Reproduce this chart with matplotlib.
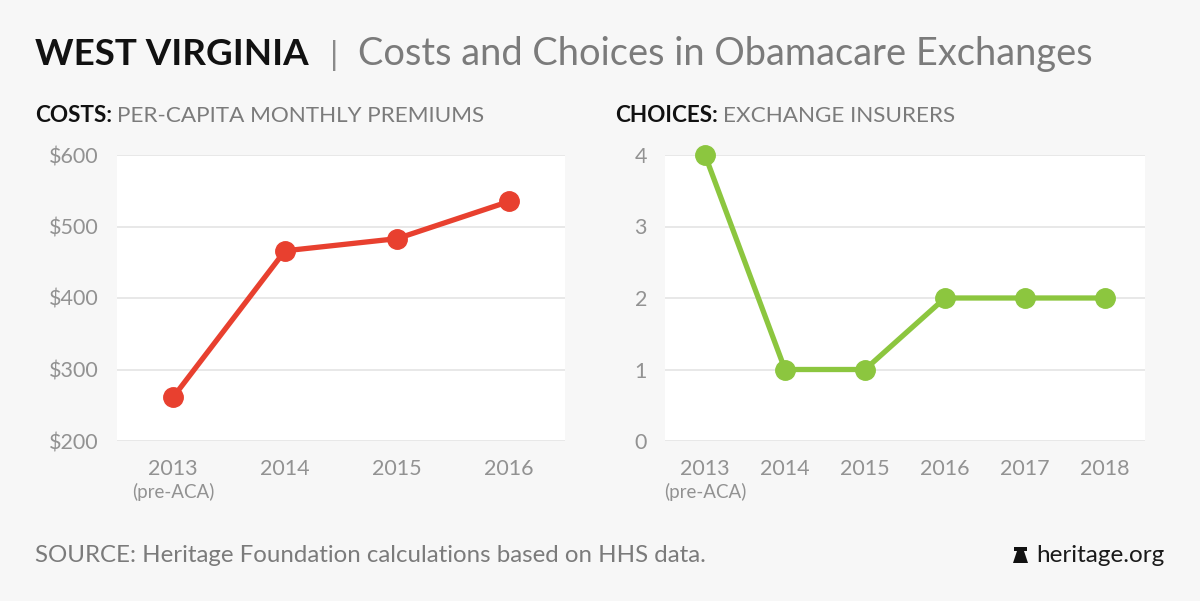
import matplotlib.pyplot as plt
from matplotlib.patches import Polygon
from matplotlib.transforms import blended_transform_factory

# Data
cost_years = ["2013", "2014", "2015", "2016"]
cost_values = [261, 466, 483, 535]
choice_years = ["2013", "2014", "2015", "2016", "2017", "2018"]
choice_values = [4, 1, 1, 2, 2, 2]

BG = "#f7f7f7"
RED = "#e8402f"
GREEN = "#8cc63f"
GRID = "#e4e4e4"
TICK = "#929292"
GREY = "#7b7b7b"

plt.rcParams['font.family'] = ['Lato', 'DejaVu Sans']

W, H = 1200, 601
fig = plt.figure(figsize=(12, 6.01), dpi=100, facecolor=BG)

# Title block
fig.text(35/W, 1-65/H, "WEST VIRGINIA", size=26.5, weight='bold', color='#111111')
fig.text(330/W, 1-65/H, "|", size=24, color='#8a8a8a')
fig.text(358/W, 1-65/H, "Costs and Choices in Obamacare Exchanges",
         size=27.4, color=GREY)

def subtitle(x, bold, light):
    """ Bold keyword followed by the grey description """
    t = fig.text(x/W, 1-122/H, bold, size=16.2, weight='bold', color='#111111')
    fig.canvas.draw()
    bb = t.get_window_extent()
    fig.text(bb.x1/W + 5/W, 1-122/H, light, size=16.2, color=GREY)

subtitle(35, "COSTS:", "PER-CAPITA MONTHLY PREMIUMS")
subtitle(615, "CHOICES:", "EXCHANGE INSURERS")

def style_axis(ax, n):
    """ White panel, light horizontal grid, no spines, grey tick labels """
    ax.set_facecolor('white')
    for s in ax.spines.values():
        s.set_visible(False)
    ax.grid(axis='y', color=GRID, linewidth=1.2)
    ax.set_axisbelow(True)
    ax.tick_params(length=0, labelsize=15.5, labelcolor=TICK, pad=13)
    ax.tick_params(axis='x', pad=13)
    ax.set_xlim(-0.5, n - 0.5)
    # second line under the first year
    trans = blended_transform_factory(ax.transData, ax.transAxes)
    ax.text(0, -0.148, "(pre-ACA)", transform=trans, ha='center', va='top',
            size=13.5, color=TICK)

# Costs panel
ax1 = fig.add_axes([117/W, 1-441/H, 448/W, 286/H])
ax1.plot(range(len(cost_values)), cost_values, color=RED, lw=3.8,
         marker='o', ms=14, clip_on=False)
ax1.set_ylim(200, 600)
ax1.set_yticks([200, 300, 400, 500, 600])
ax1.set_yticklabels([f"${v}" for v in [200, 300, 400, 500, 600]])
ax1.set_xticks(range(len(cost_years)))
ax1.set_xticklabels(cost_years)
style_axis(ax1, len(cost_years))

# Choices panel
ax2 = fig.add_axes([665/W, 1-441/H, 480/W, 286/H])
ax2.plot(range(len(choice_values)), choice_values, color=GREEN, lw=3.8,
         marker='o', ms=14, clip_on=False)
ax2.set_ylim(0, 4)
ax2.set_yticks([0, 1, 2, 3, 4])
ax2.set_xticks(range(len(choice_years)))
ax2.set_xticklabels(choice_years)
style_axis(ax2, len(choice_years))

# Footer
fig.text(35/W, 1-555/H, "SOURCE: Heritage Foundation calculations based on HHS data.",
         size=17.3, color=GREY, va='center')
fig.text(1165/W, 1-555/H, "heritage.org", size=17.5, color='#1a1a1a',
         ha='right', va='center')
# little bell logo
bell = [(1013, 563), (1028, 563), (1026, 557), (1024, 551), (1027, 551),
        (1027, 547), (1014, 547), (1014, 551), (1017, 551), (1015, 557)]
fig.add_artist(Polygon([(x/W, 1-y/H) for x, y in bell], closed=True,
                       transform=fig.transFigure, facecolor='#111111', edgecolor='none'))

fig.savefig("out.png", dpi=100, facecolor=BG)
